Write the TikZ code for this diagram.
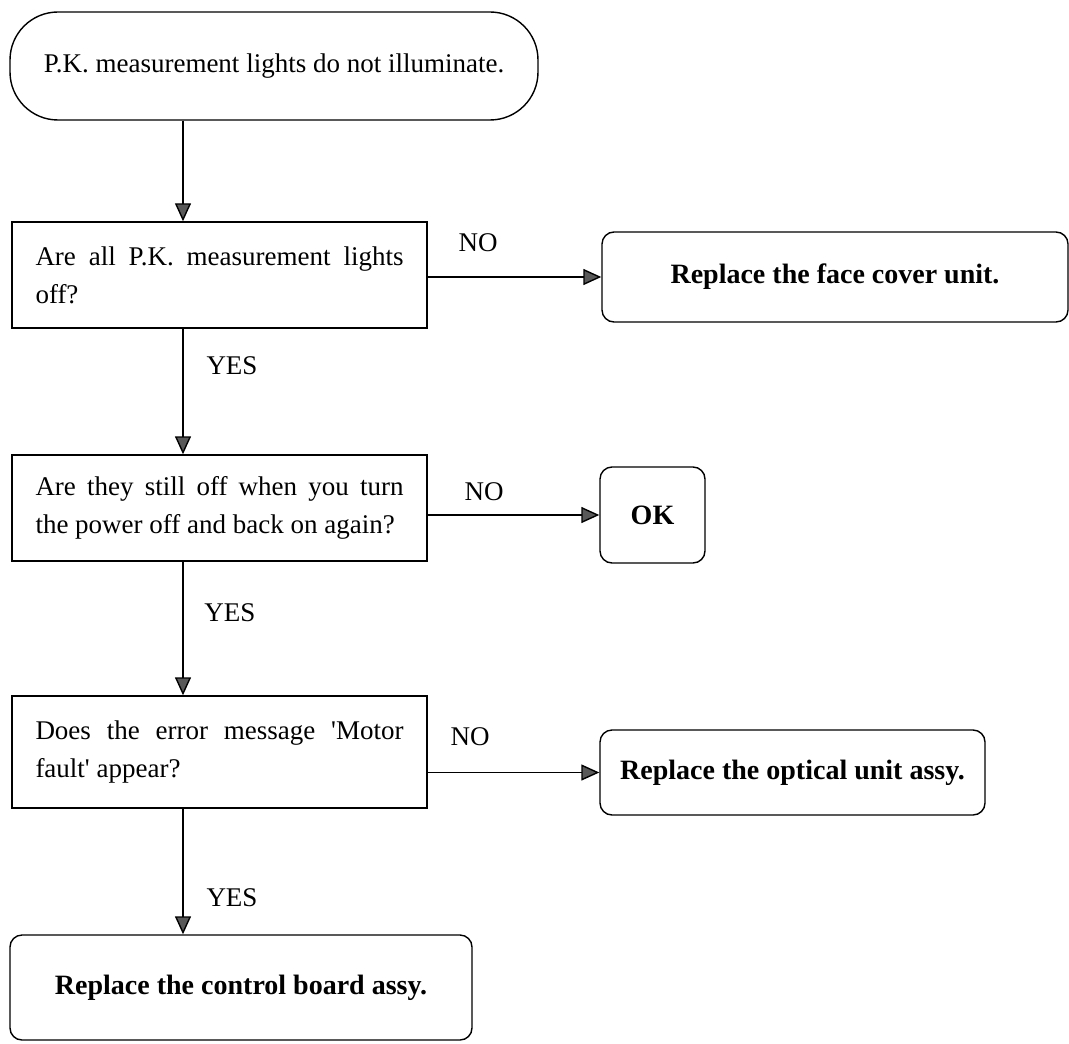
\documentclass[tikz,border=0pt]{standalone}
\usepackage{fontspec}
\setmainfont{Liberation Serif}
\usetikzlibrary{arrows.meta,positioning}

\begin{document}
\begin{tikzpicture}[
  x=0.5pt, y=-0.5pt,
  font=\fontsize{13.5}{19}\selectfont,
  >={Triangle[length=9pt, width=8pt, fill=black!65]},
  b/.style={draw=black, line width=0.7pt, inner sep=0pt},
  ask/.style={b, text width=184pt, align=justify, inner xsep=11.75pt},
  fix/.style={b, rounded corners=6pt, align=center,
              font=\fontsize{14}{18}\selectfont\bfseries},
  a/.style={->, line width=0.7pt, draw=black},
  lbl/.style={inner sep=0pt},
]
\useasboundingbox (0,0) rectangle (1069,1043);

% start of the check
\node[b, rounded corners=24pt, minimum width=264pt, minimum height=54pt] (start)
  at (274,66) {P.K. measurement lights do not illuminate.};

% questions down the left side
\node[ask, minimum height=53pt] (q1) at (219.5,275)
  {Are all P.K. measurement lights\linebreak off?};
\node[ask, minimum height=53pt] (q2) at (219.5,508)
  {Are they still off when you turn\linebreak the power off and back on again?};
\node[ask, minimum height=56pt] (q3) at (219.5,752)
  {Does the error message \textquotesingle Motor\linebreak fault\textquotesingle{} appear?};

% remedies
\node[fix, minimum width=233pt, minimum height=45pt] (face) at (835,277)
  {Replace the face cover unit.};
\node[fix, minimum width=52.5pt, minimum height=48pt] (ok) at (652.5,515) {OK};
\node[fix, minimum width=192.5pt, minimum height=42.5pt] (optical) at (792.5,772.5)
  {Replace the optical unit assy.};
\node[fix, minimum width=231pt, minimum height=52.5pt] (final) at (241,987.5)
  {Replace the control board assy.};

% answers
\node[lbl] (no1) at (478,243) {NO};
\node[lbl] (yes1) at (232,366) {YES};
\node[lbl] (no2) at (484,492) {NO};
\node[lbl] (yes2) at (230,613) {YES};
\node[lbl] (no3) at (470,737) {NO};
\node[lbl] (yes3) at (232,898) {YES};

\coordinate (spine) at (183,0);

\draw[a] (start.south -| spine) -- (q1.north -| spine);
\draw[a] (q1.south -| spine) -- (q2.north -| spine);
\draw[a] (q2.south -| spine) -- (q3.north -| spine);
\draw[a] (q3.south -| spine) -- (final.north -| spine);
\draw[a] (q1.east |- face.west) -- (face.west);
\draw[a] (q2.east |- ok.west) -- (ok.west);
\draw[a] (q3.east |- optical.west) -- (optical.west);
\end{tikzpicture}
\end{document}
